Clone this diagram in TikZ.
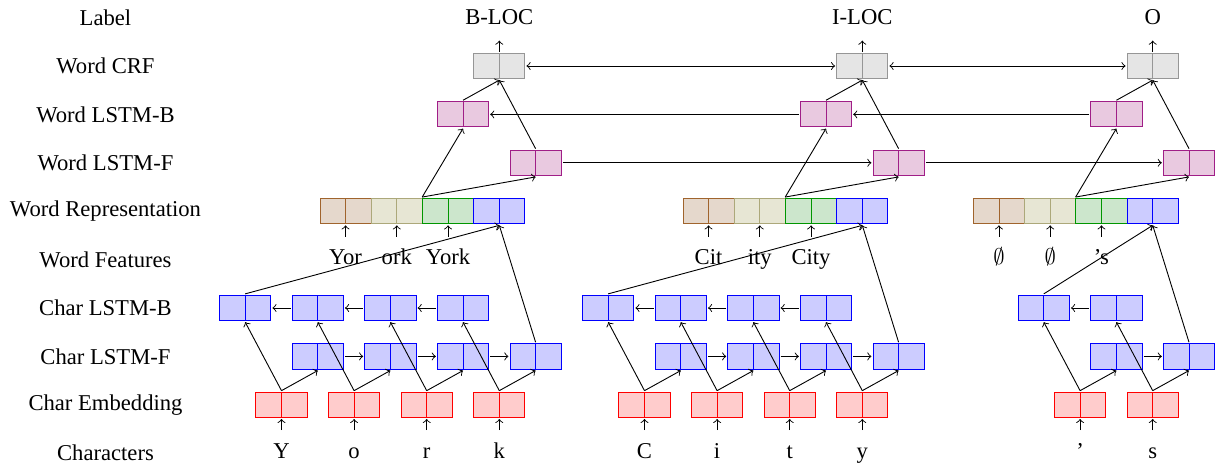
\documentclass[tikz,border=0pt]{standalone}
\usepackage{fontspec}
\setmainfont{Liberation Serif}
\definecolor{wlfill}{RGB}{233,201,224}
\definecolor{wldraw}{RGB}{160,30,135}
\definecolor{brfill}{RGB}{229,216,204}
\definecolor{brdraw}{RGB}{160,100,45}
\definecolor{befill}{RGB}{231,230,212}
\definecolor{bedraw}{RGB}{172,168,122}
\definecolor{grfill}{RGB}{204,230,204}
\definecolor{grdraw}{RGB}{0,150,0}
\definecolor{blfill}{RGB}{204,204,255}
\definecolor{bldraw}{RGB}{0,0,255}
\definecolor{rdfill}{RGB}{255,204,204}
\definecolor{rddraw}{RGB}{255,0,0}
\definecolor{crffill}{RGB}{229,229,229}
\definecolor{crfdraw}{RGB}{150,150,150}
\tikzset{
  twocell/.style 2 args={draw=#1, fill=#2, minimum width=0.795cm, minimum height=0.39cm,
    inner sep=0pt, outer sep=0.7pt,
    path picture={\draw[#1] (path picture bounding box.north) -- (path picture bounding box.south);}},
  crfbox/.style={twocell={crfdraw}{crffill}},
  wlbox/.style={twocell={wldraw}{wlfill}},
  brbox/.style={twocell={brdraw}{brfill}},
  bebox/.style={twocell={bedraw}{befill}},
  grbox/.style={twocell={grdraw}{grfill}},
  blbox/.style={twocell={bldraw}{blfill}},
  rdbox/.style={twocell={rddraw}{rdfill}},
  repgroup/.style={minimum width=3.18cm, minimum height=0.39cm, inner sep=0pt, outer sep=0.7pt},
  rowlabel/.style={inner sep=0pt, outer sep=0pt},
  coltext/.style={anchor=base, inner sep=0pt, outer sep=0pt, text height=12.5pt, text depth=6.9pt},
  conn/.style={->, black},
  biconn/.style={<->, black},
}
\begin{document}
\begin{tikzpicture}[x=0.015528cm, y=-0.015528cm]
\useasboundingbox (0,0) rectangle (1219,466);
% row labels
\node[rowlabel] (l0) at (105.5,17.6) {Label};
\node[rowlabel] (l1) at (105.5,66.0) {Word CRF};
\node[rowlabel] (l2) at (105.5,114.4) {Word LSTM-B};
\node[rowlabel] (l3) at (105.5,162.8) {Word LSTM-F};
\node[rowlabel] (l4) at (105.5,211.2) {Word Representation};
\node[rowlabel] (l5) at (105.5,259.6) {Word Features};
\node[rowlabel] (l6) at (105.5,308.0) {Char LSTM-B};
\node[rowlabel] (l7) at (105.5,356.4) {Char LSTM-F};
\node[rowlabel] (l8) at (105.5,404.8) {Char Embedding};
\node[rowlabel] (l9) at (105.5,453.2) {Characters};

% ---------------- word 1 ----------------
\node[coltext] (lab1) at (499.3,25) {B-LOC};
\node[crfbox] (crf1) at (499.3,66.0) {};
\node[wlbox] (wb1) at (463.0,114.4) {};
\node[wlbox] (wf1) at (535.6,162.8) {};
\node[brbox] (r11) at (345.55,211.2) {};
\node[bebox] (r12) at (396.8,211.2) {};
\node[grbox] (r13) at (448.05,211.2) {};
\node[blbox] (r14) at (499.3,211.2) {};
\node[repgroup] (rep1) at (422.2,211.2) {};
\node[coltext] (f11) at (345.55,265) {Yor};
\node[coltext] (f12) at (396.8,265) {ork};
\node[coltext] (f13) at (448.05,265) {York};
\node[coltext] (ch11) at (281.5,458.3) {Y};
\node[coltext] (ch12) at (354.1,458.3) {o};
\node[coltext] (ch13) at (426.7,458.3) {r};
\node[coltext] (ch14) at (499.3,458.3) {k};
\foreach \j/\x in {1/281.5,2/354.1,3/426.7,4/499.3}{
  \node[rdbox] (e1\j) at (\x,404.8) {};
  \node[blbox] (cf1\j) at (\x+36.3,356.4) {};
  \node[blbox] (cb1\j) at (\x-36.3,308.0) {};
}

% ---------------- word 2 ----------------
\node[coltext] (lab2) at (862.3,25) {I-LOC};
\node[crfbox] (crf2) at (862.3,66.0) {};
\node[wlbox] (wb2) at (826.0,114.4) {};
\node[wlbox] (wf2) at (898.6,162.8) {};
\node[brbox] (r21) at (708.55,211.2) {};
\node[bebox] (r22) at (759.8,211.2) {};
\node[grbox] (r23) at (811.05,211.2) {};
\node[blbox] (r24) at (862.3,211.2) {};
\node[repgroup] (rep2) at (785.2,211.2) {};
\node[coltext] (f21) at (708.55,265) {Cit};
\node[coltext] (f22) at (759.8,265) {ity};
\node[coltext] (f23) at (811.05,265) {City};
\node[coltext] (ch21) at (644.5,458.3) {C};
\node[coltext] (ch22) at (717.1,458.3) {i};
\node[coltext] (ch23) at (789.7,458.3) {t};
\node[coltext] (ch24) at (862.3,458.3) {y};
\foreach \j/\x in {1/644.5,2/717.1,3/789.7,4/862.3}{
  \node[rdbox] (e2\j) at (\x,404.8) {};
  \node[blbox] (cf2\j) at (\x+36.3,356.4) {};
  \node[blbox] (cb2\j) at (\x-36.3,308.0) {};
}

% ---------------- word 3 ----------------
\node[coltext] (lab3) at (1152.7,25) {O};
\node[crfbox] (crf3) at (1152.7,66.0) {};
\node[wlbox] (wb3) at (1116.4,114.4) {};
\node[wlbox] (wf3) at (1189.0,162.8) {};
\node[brbox] (r31) at (998.95,211.2) {};
\node[bebox] (r32) at (1050.2,211.2) {};
\node[grbox] (r33) at (1101.45,211.2) {};
\node[blbox] (r34) at (1152.7,211.2) {};
\node[repgroup] (rep3) at (1075.6,211.2) {};
\node[coltext] (f31) at (998.95,265) {$\emptyset$};
\node[coltext] (f32) at (1050.2,265) {$\emptyset$};
\node[coltext] (f33) at (1101.45,265) {’s};
\node[coltext] (ch31) at (1080.1,458.3) {’};
\node[coltext] (ch32) at (1152.7,458.3) {s};
\foreach \j/\x in {1/1080.1,2/1152.7}{
  \node[rdbox] (e3\j) at (\x,404.8) {};
  \node[blbox] (cf3\j) at (\x+36.3,356.4) {};
  \node[blbox] (cb3\j) at (\x-36.3,308.0) {};
}

% ---------------- connectors ----------------
\foreach \w/\n in {1/4,2/4,3/2}{
  \foreach \j in {1,...,\n}{
    \draw[conn] (ch\w\j.north) -- (e\w\j.south);
    \draw[conn] (e\w\j.north) -- (cf\w\j.south);
    \draw[conn] (e\w\j.north) -- (cb\w\j.south);
  }
  \draw[conn] (cb\w1.north) -- (r\w4.south);
  \draw[conn] (cf\w\n.north) -- (r\w4.south);
  \draw[conn] (f\w1.north) -- (r\w1.south);
  \draw[conn] (f\w2.north) -- (r\w2.south);
  \draw[conn] (f\w3.north) -- (r\w3.south);
  \draw[conn] (rep\w.north) -- (wb\w.south);
  \draw[conn] (rep\w.north) -- (wf\w.south);
  \draw[conn] (wb\w.north) -- (crf\w.south);
  \draw[conn] (wf\w.north) -- (crf\w.south);
  \draw[conn] (crf\w.north) -- (lab\w.south);
}
\foreach \w/\a/\b in {1/1/2,1/2/3,1/3/4,2/1/2,2/2/3,2/3/4,3/1/2}{
  \draw[conn] (cf\w\a.east) -- (cf\w\b.west);
  \draw[conn] (cb\w\b.west) -- (cb\w\a.east);
}
\draw[conn] (wf1.east) -- (wf2.west);
\draw[conn] (wf2.east) -- (wf3.west);
\draw[conn] (wb2.west) -- (wb1.east);
\draw[conn] (wb3.west) -- (wb2.east);
\draw[biconn] (crf1.east) -- (crf2.west);
\draw[biconn] (crf2.east) -- (crf3.west);
\end{tikzpicture}
\end{document}
